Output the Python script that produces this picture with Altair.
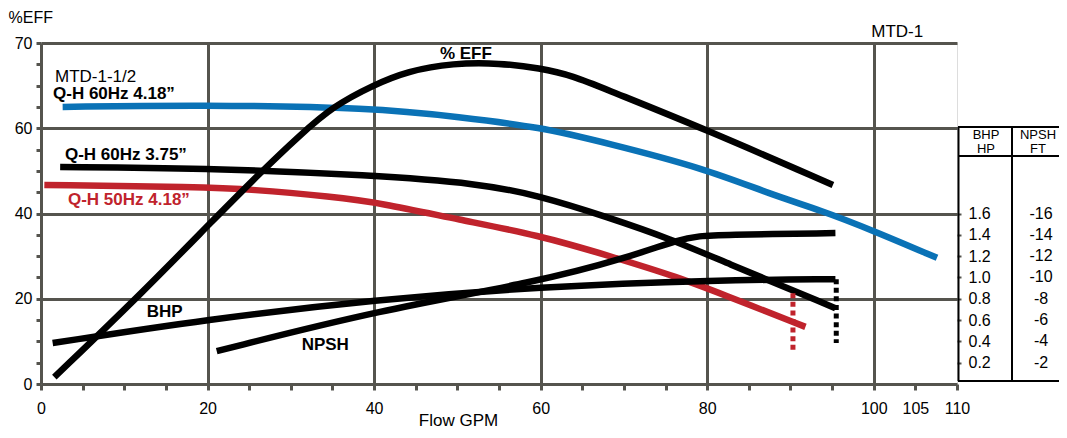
import altair as alt
import pandas as pd

FONT = "Liberation Sans"
GRID = "#55544e"
BLUE = "#0a72b6"
RED = "#c0232c"
BLACK = "#000000"

# ---- curve data (Flow GPM, value on the left scale) ----
eff_gpm = [1.6, 11.9, 20.7, 26.3, 31.1, 35.1, 39.9, 44.0, 49.5, 55.1, 59.9, 63.9, 68.0, 79.5, 95.1]
eff_val = [1.6, 20.9, 38.5, 49.5, 58.4, 65.2, 70.1, 73.4, 75.3, 75.3, 74.1, 72.3, 69.0, 60.0, 46.7]

qh60_418_gpm = [2.6, 19.1, 39.9, 50.3, 59.9, 68.0, 79.5, 87.9, 93.6, 99.8, 107.6]
qh60_418_val = [65.0, 65.5, 64.8, 62.6, 60.3, 56.5, 50.7, 44.3, 40.8, 36.1, 29.6]

qh60_375_gpm = [2.3, 19.1, 39.9, 52.7, 59.6, 68.0, 75.9, 81.5, 95.4]
qh60_375_val = [50.9, 50.7, 49.0, 47.0, 44.3, 39.2, 33.8, 29.1, 17.8]

qh50_418_gpm = [0.4, 19.1, 25.1, 35.1, 40.7, 50.3, 59.6, 68.7, 76.7, 81.5, 91.8]
qh50_418_val = [46.7, 46.2, 45.7, 43.9, 42.5, 38.5, 35.0, 29.8, 24.9, 21.3, 13.4]

bhp_gpm = [1.4, 19.9, 40.3, 59.6, 81.5, 95.4]
bhp_val = [9.6, 15.2, 19.8, 22.8, 24.4, 24.6]

npsh_gpm = [21.1, 40.7, 59.6, 70.7, 76.7, 79.1, 81.5, 95.4]
npsh_val = [7.7, 17.4, 23.9, 29.8, 34.0, 34.7, 35.0, 35.4]

# dotted cut-off lines
dotted_series = ["qh50_418", "qh60_375"]
dotted_gpm = [90.3, 95.5]
dotted_top = [21.3, 24.6]
dotted_bottom = [8.0, 9.6]

# right-hand scales
bhp_hp = [0.2, 0.4, 0.6, 0.8, 1.0, 1.2, 1.4, 1.6]
npsh_ft = [2, 4, 6, 8, 10, 12, 14, 16]

# annotations
bold_series = ["label", "label", "qh50_418", "label", "label", "label"]
bold_text = ["Q-H 60Hz 4.18\u201d", "Q-H 60Hz 3.75\u201d", "Q-H 50Hz 4.18\u201d", "BHP", "NPSH", "% EFF"]
bold_gpm = [1.44, 2.88, 3.24, 12.7, 31.3, 47.9]
bold_val = [68.0, 53.7, 43.2, 16.9, 9.1, 77.4]

plain_text = ["MTD-1-1/2", "MTD-1"]
plain_gpm = [1.68, 99.7]
plain_val = [72.0, 82.6]

series_domain = ["eff", "qh60_418", "qh60_375", "qh50_418", "bhp", "npsh", "label"]
series_range = [BLACK, BLUE, BLACK, RED, BLACK, BLACK, BLACK]


def frame(name, xs, ys):
    return pd.DataFrame({"series": name, "gpm": xs, "val": ys})


colored_df = pd.concat([frame("qh60_418", qh60_418_gpm, qh60_418_val),
                        frame("qh50_418", qh50_418_gpm, qh50_418_val)])
black_df = pd.concat([frame("qh60_375", qh60_375_gpm, qh60_375_val),
                      frame("bhp", bhp_gpm, bhp_val),
                      frame("npsh", npsh_gpm, npsh_val),
                      frame("eff", eff_gpm, eff_val)])
dotted_df = pd.DataFrame({"series": dotted_series, "gpm": dotted_gpm,
                          "val": dotted_top, "val2": dotted_bottom})
bold_df = pd.DataFrame({"series": bold_series, "label": bold_text, "gpm": bold_gpm, "val": bold_val})
plain_df = pd.DataFrame({"label": plain_text, "gpm": plain_gpm, "val": plain_val})
npsh_df = pd.DataFrame({"label": ["-%d" % v for v in npsh_ft], "val": [v * 2.5 for v in npsh_ft]})

xs = alt.Scale(domain=[0, 110], nice=False, zero=False)
ys = alt.Scale(domain=[0, 80], nice=False, zero=False)
cs = alt.Scale(domain=series_domain, range=series_range)

x_axis = alt.Axis(
    values=list(range(0, 115, 5)),
    labelExpr="(datum.value % 20 === 0 || datum.value >= 105) ? datum.label : ''",
    labelFlush=False,
    labelOverlap=False,
    grid=True,
    gridColor=GRID,
    gridWidth=3,
    gridOpacity={"condition": {"test": "datum.value % 20 === 0", "value": 1}, "value": 0},
    domain=False,
    tickColor=GRID,
    tickWidth=3,
    tickSize=6,
    labelPadding=10,
    labelFontSize=16,
    labelColor=BLACK,
    labelFont=FONT,
    title="Flow GPM",
    titleFont=FONT,
    titleFontSize=17,
    titleFontWeight="normal",
    titleColor=BLACK,
    titleAlign="center",
    titleBaseline="alphabetic",
    titleX=417,
    titleY=41,
)

y_axis = alt.Axis(
    values=list(range(0, 85, 5)),
    labelExpr="datum.value % 20 === 0 ? (datum.value === 80 ? '70' : datum.label) : ''",
    labelFlush=False,
    labelOverlap=False,
    grid=True,
    gridColor=GRID,
    gridWidth=3,
    gridOpacity={"condition": {"test": "datum.value % 20 === 0", "value": 1}, "value": 0},
    domain=False,
    tickColor=GRID,
    tickWidth=3,
    tickSize=5,
    labelPadding=4,
    labelFontSize=16,
    labelColor=BLACK,
    labelFont=FONT,
    title="%EFF",
    titleFont=FONT,
    titleFontSize=16,
    titleFontWeight="normal",
    titleColor=BLACK,
    titleAngle=0,
    titleAlign="left",
    titleBaseline="middle",
    titleX=-33,
    titleY=-26,
)

right_axis = alt.Axis(
    orient="right",
    values=[v * 25 for v in bhp_hp],
    labelExpr="format(datum.value / 25, '.1f')",
    labelFlush=False,
    labelOverlap=False,
    grid=False,
    domain=False,
    tickColor=GRID,
    tickWidth=2,
    tickSize=4,
    labelPadding=7,
    labelAlign="left",
    labelFontSize=16,
    labelColor=BLACK,
    labelFont=FONT,
    title=None,
)

LINE = dict(strokeWidth=6.5, interpolate="basis", strokeCap="butt")

colored = alt.Chart(colored_df).mark_line(**LINE).encode(
    x=alt.X("gpm:Q", scale=xs, axis=x_axis),
    y=alt.Y("val:Q", scale=ys, axis=y_axis),
    color=alt.Color("series:N", scale=cs, legend=None),
)

blacks = alt.Chart(black_df).mark_line(**LINE).encode(
    x=alt.X("gpm:Q", scale=xs),
    y=alt.Y("val:Q", scale=ys, axis=None),
    color=alt.Color("series:N", scale=cs, legend=None),
)

dotted = alt.Chart(dotted_df).mark_rule(strokeWidth=5, strokeDash=[5, 3.6]).encode(
    x=alt.X("gpm:Q", scale=xs),
    y=alt.Y("val:Q", scale=ys, axis=right_axis),
    y2="val2:Q",
    color=alt.Color("series:N", scale=cs, legend=None),
)

bold_labels = alt.Chart(bold_df).mark_text(
    font=FONT, fontSize=17, fontWeight="bold", align="left", baseline="middle"
).encode(
    x=alt.X("gpm:Q", scale=xs),
    y=alt.Y("val:Q", scale=ys, axis=None),
    text="label:N",
    color=alt.Color("series:N", scale=cs, legend=None),
)

plain_labels = alt.Chart(plain_df).mark_text(
    font=FONT, fontSize=17, align="left", baseline="middle", color=BLACK
).encode(
    x=alt.X("gpm:Q", scale=xs),
    y=alt.Y("val:Q", scale=ys, axis=None),
    text="label:N",
)

npsh_labels = alt.Chart(npsh_df).mark_text(
    font=FONT, fontSize=16, align="center", baseline="middle", color=BLACK
).encode(
    x=alt.value(1000),
    y=alt.Y("val:Q", scale=ys, axis=None),
    text="label:N",
)

one = pd.DataFrame({"k": [0]})


def hrule(y, x1, x2):
    return alt.Chart(one).mark_rule(color=BLACK, strokeWidth=2).encode(
        x=alt.value(x1), x2=alt.value(x2), y=alt.value(y))


def vrule(x, y1, y2):
    return alt.Chart(one).mark_rule(color=BLACK, strokeWidth=2).encode(
        x=alt.value(x), y=alt.value(y1), y2=alt.value(y2))


def header(txt, x, y):
    return alt.Chart(one).mark_text(
        font=FONT, fontSize=13, align="center", baseline="middle", color=BLACK
    ).encode(x=alt.value(x), y=alt.value(y), text=alt.value(txt))


table = [
    hrule(84, 917, 1020),
    hrule(113, 917, 1020),
    hrule(338, 917, 1020),
    vrule(917.5, 84, 338),
    vrule(971, 84, 338),
    header("BHP", 945, 92),
    header("HP", 945, 106),
    header("NPSH", 997, 92),
    header("FT", 997, 106),
]

chart = alt.layer(
    colored, blacks, dotted, bold_labels, plain_labels, npsh_labels, *table
).resolve_axis(y="independent").properties(
    width=916,
    height=341,
    autosize=alt.AutoSizeParams(type="none"),
    padding={"left": 33, "top": 35, "right": 102, "bottom": 46},
).configure_view(
    stroke=GRID, strokeWidth=3
).configure(background="white")

chart.save("out.html", embed_options={"renderer": "svg", "actions": False})
